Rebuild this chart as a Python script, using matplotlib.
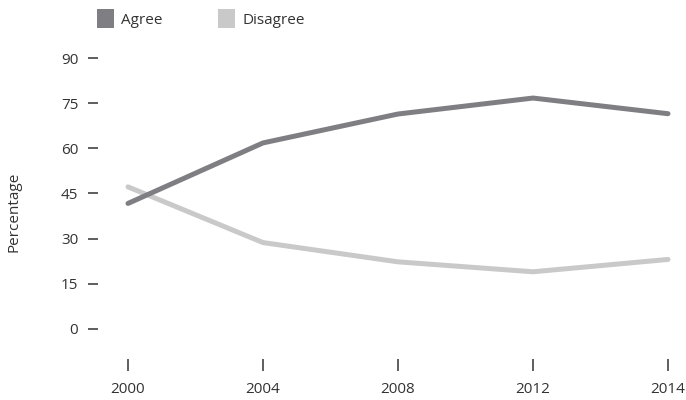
import matplotlib
matplotlib.use("Agg")
import matplotlib.pyplot as plt
from matplotlib.patches import Patch

years = ["2000", "2004", "2008", "2012", "2014"]
agree = [41.7, 61.8, 71.4, 76.7, 71.5]
disagree = [47.2, 28.7, 22.3, 19.0, 23.1]
yticks = [0, 15, 30, 45, 60, 75, 90]

c_agree = "#7f7f83"
c_dis = "#c9c9c9"
txt = "#333333"

plt.rcParams['font.family'] = ['Open Sans', 'DejaVu Sans']

W, H = 686, 400
fig = plt.figure(figsize=(W/100, H/100), dpi=100)

# axes pixel bounds
L, R, T, B = 98, 686, 40, 359
ax = fig.add_axes([L/W, 1 - B/H, (R-L)/W, (B-T)/H])

x = list(range(len(years)))
ax.plot(x, agree, color=c_agree, lw=3.6, solid_capstyle='round', solid_joinstyle='round', zorder=3)
ax.plot(x, disagree, color=c_dis, lw=3.6, solid_capstyle='round', solid_joinstyle='round', zorder=2)

px_x = 135.0
px_y = 3.01
ax.set_xlim(-(128 - L)/px_x, 4 + (R - 668)/px_x)
ax.set_ylim(-(B - 329)/px_y, 90 + (58 - T)/px_y)

ax.set_xticks(x)
ax.set_xticklabels(years)
ax.set_yticks(yticks)
ax.set_yticklabels([str(v) for v in yticks])

for s in ax.spines.values():
    s.set_visible(False)

ax.tick_params(axis='y', direction='out', length=7.2, width=1.1, color=txt, pad=7, labelsize=11, labelcolor=txt)
ax.tick_params(axis='x', direction='out', length=8.6, width=1.1, color=txt, pad=8, labelsize=11, labelcolor=txt)

fig.text(14/W, 1 - 212/H, "Percentage", rotation=90, ha='center', va='center', fontsize=11, color=txt)

handles = [Patch(facecolor=c_agree, edgecolor='none', label='Agree'),
           Patch(facecolor=c_dis, edgecolor='none', label='Disagree')]
fig.legend(handles=handles, loc='upper left', bbox_to_anchor=(97/W, 1 - 9/H), ncol=2, frameon=False,
           borderpad=0, borderaxespad=0, handlelength=1.1, handleheight=1.55, handletextpad=0.5,
           columnspacing=3.6, fontsize=11, labelcolor=txt)

fig.savefig("out.png", dpi=100)
